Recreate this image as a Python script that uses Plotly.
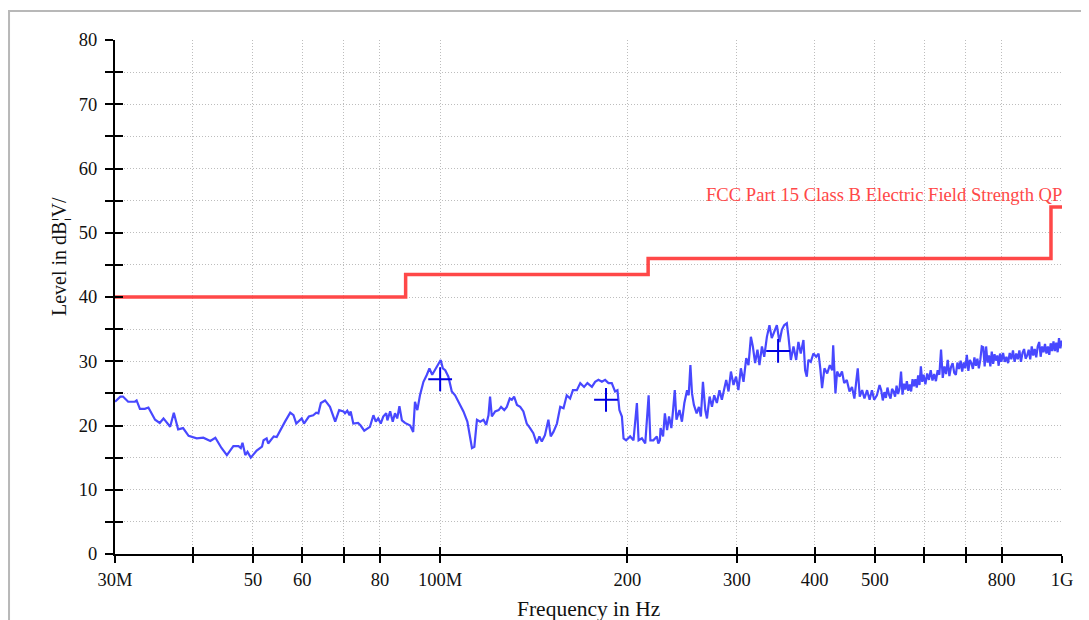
import math
import plotly.graph_objects as go

# ---------------- data ----------------
# measured trace, 30 MHz .. 1 GHz (MHz, dBuV/m), read from the picture
freq_a = [30.0, 30.6, 30.9, 31.5, 32.3, 32.5, 32.9, 33.5, 33.95, 34.8,
          35.4, 35.9, 36.8, 37.3, 37.9, 38.6, 39.4, 40.6, 41.6, 42.7,
          43.5, 44.5, 45.4, 46.5, 47.4, 47.8, 48.1, 48.6, 49.0, 49.6,
          50.7, 51.7, 52.0, 52.6, 52.9, 54.0, 54.6, 55.3, 56.3, 57.4,
          58.1, 58.7, 59.9, 60.4, 61.5, 62.5, 63.2, 63.7, 64.3, 65.3,
          66.1, 66.5, 67.8, 68.8, 69.9, 70.3, 70.9, 71.5, 71.8, 72.5,
          73.8, 74.5, 75.5, 77.1, 78.1, 78.8, 79.5, 80.25, 81.0, 81.9,
          82.25, 83.1, 83.9, 84.6, 85.3, 86.0, 86.8, 87.8, 89.5]
level_a = [23.7, 24.5, 24.5, 23.7, 23.7, 23.9, 22.6, 22.6, 22.8, 20.9,
           20.4, 21.1, 19.8, 22.0, 19.4, 19.6, 18.4, 18.0, 18.1, 17.6,
           18.1, 16.5, 15.4, 16.8, 16.8, 16.5, 17.3, 15.4, 15.9, 15.0,
           16.1, 16.7, 17.7, 18.0, 17.2, 18.3, 18.2, 19.3, 20.6, 22.0,
           21.6, 20.3, 21.1, 20.3, 21.4, 21.6, 22.0, 21.9, 23.5, 23.9,
           23.2, 22.9, 20.6, 22.4, 22.2, 21.9, 22.3, 21.6, 22.2, 20.3,
           20.4, 20.0, 19.2, 19.8, 21.6, 20.6, 21.1, 20.3, 21.4, 21.9,
           20.8, 22.2, 20.6, 21.9, 21.1, 23.0, 20.8, 20.4, 20.0]

freq_b = [90.5, 91.1, 91.9, 92.8, 94.0, 95.2, 96.1, 97.1, 98.1, 99.3,
          100.2, 101.0, 101.9, 103.1, 104.4, 105.7, 107.6, 109.0, 110.6, 111.7,
          112.5, 113.5, 114.6, 116.0, 117.4, 118.6, 119.6, 120.3, 121.1, 122.6,
          124.2, 125.3, 126.8, 128.0, 129.4, 130.4, 131.5, 132.9, 134.5, 136.1,
          137.8, 139.5, 141.2, 143.0, 144.4, 145.7, 147.4, 149.3, 150.6, 152.1,
          154.1, 156.0, 157.9, 159.8, 161.8, 163.5, 165.9, 168.0, 170.4, 172.5,
          175.4, 177.5, 179.7, 182.0, 184.2, 186.5, 188.8, 191.1, 192.8, 194.2,
          196.0, 197.2, 199.1, 202.1, 204.6, 207.2, 208.5, 211.1, 213.7, 216.4,
          217.8, 220.2]
level_b = [19.0, 23.7, 22.4, 24.7, 26.8, 27.9, 28.9, 27.9, 28.6, 29.4,
           30.2, 28.9, 28.6, 27.6, 25.3, 24.7, 23.2, 22.2, 20.6, 18.3,
           16.5, 16.7, 20.9, 20.6, 20.9, 20.1, 21.6, 24.5, 21.4, 22.2,
           22.4, 22.9, 22.4, 22.9, 24.2, 24.0, 24.5, 23.2, 22.9, 22.2,
           20.3, 19.6, 18.8, 17.2, 18.3, 17.5, 18.5, 20.9, 18.3, 19.0,
           20.3, 22.9, 22.7, 24.7, 24.2, 25.5, 25.5, 26.6, 26.0, 26.6,
           26.0, 26.8, 27.1, 26.8, 27.1, 26.6, 26.6, 25.3, 25.5, 22.4,
           21.4, 18.0, 17.7, 18.3, 17.7, 23.5, 17.7, 18.0, 17.2, 24.7,
           17.7, 17.7]

freq_c = [223.1, 224.3, 225.6, 226.2, 228.3, 229.8, 231.7, 233.4, 235.4, 236.9,
          238.4, 239.9, 242.6, 244.8, 247.0, 249.5, 251.0, 252.6, 254.1, 255.9,
          258.5, 260.7, 262.6, 264.6, 266.9, 268.6, 271.2, 273.6, 275.9, 278.6,
          281.3, 283.8, 286.3, 288.4, 290.9, 293.5, 296.3, 299.1, 301.7, 304.5,
          307.5, 310.6, 313.2, 316.0, 318.3, 321.0, 323.8, 326.2, 329.2, 332.0,
          335.3, 338.5, 341.4, 344.4, 347.9, 351.3, 354.4, 357.4, 361.0, 363.2,
          366.4, 370.0, 373.7, 376.8, 380.1, 383.9, 386.3, 388.7, 391.0, 394.5,
          398.3, 402.4, 406.0, 408.6, 411.3, 414.9, 419.2, 423.3, 427.0, 428.6,
          432.2, 434.9, 439.0, 442.8, 446.4, 450.7, 455.3, 459.5, 463.6, 467.1,
          469.4, 472.9, 477.1, 481.2, 485.9, 490.5, 494.7, 498.8, 503.9, 508.9]
level_c = [18.3, 17.2, 17.7, 19.6, 18.3, 21.9, 19.3, 21.4, 19.6, 22.4,
           25.5, 20.9, 22.4, 20.6, 23.5, 25.5, 24.7, 29.4, 25.0, 23.2,
           21.9, 22.9, 21.4, 26.8, 22.4, 21.1, 24.5, 22.9, 24.7, 23.5,
           25.5, 24.0, 26.0, 27.1, 25.3, 28.4, 26.3, 27.6, 25.5, 28.9,
           26.8, 30.5, 29.4, 33.8, 32.3, 29.7, 31.8, 29.4, 32.3, 30.7,
           33.8, 35.6, 33.6, 34.6, 35.6, 33.0, 34.9, 35.6, 35.9, 33.8,
           30.2, 32.3, 30.2, 33.0, 31.2, 33.3, 28.6, 27.6, 30.2, 29.9,
           31.2, 30.7, 31.2, 28.9, 25.8, 28.9, 28.1, 29.4, 28.6, 32.5,
           25.0, 28.4, 27.6, 28.4, 26.6, 27.1, 25.3, 26.0, 24.2, 27.1,
           28.9, 24.5, 25.5, 24.2, 25.5, 24.0, 25.5, 24.0, 24.7, 26.3]

freq_d = [512, 515, 518, 521, 524, 527, 530, 533, 536, 539,
          542, 545, 548, 551, 554, 557, 560, 563, 566, 569,
          572, 575, 578, 581, 584, 587, 590, 593, 596, 599]
level_d = [25.5, 23.9, 25.2, 24.3, 25.9, 24.8, 24.2, 25.7, 25.3, 24.5,
           26.2, 24.9, 25.8, 28.4, 24.8, 26.5, 25.6, 26.9, 25.4, 26.4,
           25.3, 27.2, 26.1, 27.2, 25.9, 27.8, 26.3, 29.2, 26.8, 27.9]

freq_e = [603, 607, 611, 615, 619, 623, 627, 631, 635, 639,
          643, 647, 651, 655, 659, 663, 667, 671, 675, 679,
          683, 687, 691, 695, 699, 703, 707, 711, 715, 719,
          723, 727, 731, 735, 739, 743, 747, 751, 755, 759,
          763, 767, 771, 775, 779, 783, 787, 791, 795, 799]
level_e = [26.4, 28.1, 27.1, 28.6, 27.0, 28.0, 26.9, 28.6, 27.9, 31.8,
           27.4, 29.2, 28.0, 30.2, 27.7, 29.1, 29.7, 28.2, 27.9, 29.8,
           28.8, 30.1, 28.4, 29.8, 28.9, 31.0, 28.5, 30.2, 29.7, 28.8,
           30.6, 29.3, 30.4, 28.9, 30.2, 32.3, 32.2, 29.2, 32.3, 29.8,
           30.9, 29.2, 31.5, 29.6, 31.1, 30.1, 30.9, 29.3, 31.2, 29.9]

freq_f = [804, 809, 814, 819, 824, 829, 834, 839, 844, 849,
          854, 859, 864, 869, 874, 879, 884, 889, 894, 899,
          904, 909, 914, 919, 924, 929, 934, 939, 944, 949,
          954, 959, 964, 969, 974, 979, 984, 989, 994, 999, 1000]
level_f = [31.3, 29.9, 30.7, 29.7, 31.3, 30.3, 31.7, 29.9, 31.2, 30.3,
           31.7, 29.9, 31.3, 31.9, 30.4, 30.9, 31.8, 30.3, 32.3, 30.9,
           31.9, 30.6, 32.3, 33.0, 30.7, 32.3, 31.4, 32.7, 31.2, 32.3,
           31.0, 32.8, 31.6, 33.1, 31.6, 32.9, 31.4, 33.6, 32.0, 33.2, 32.5]

# FCC Part 15 class B QP limit (step line)
limit_freq = [30, 88, 216, 960, 1000]
limit_level = [40, 43.5, 46, 54, 54]
limit_name = "FCC Part 15 Class B Electric Field Strength QP"

# final measurement markers
marker_freq = [100.0, 184.8, 349.5]
marker_level = [27.2, 24.0, 31.6]

# axis ticks
x_tickvals = [30, 40, 50, 60, 70, 80, 100, 200, 300, 400, 500, 600, 700, 800, 1000]
x_ticktext = ["30M", "", "50", "60", "", "80", "100M", "200", "300", "400",
              "500", "", "", "800", "1G"]
y_tickvals = [0, 5, 10, 15, 20, 25, 30, 35, 40, 45, 50, 55, 60, 65, 70, 75, 80]
y_ticktext = ["0", "", "10", "", "20", "", "30", "", "40", "", "50", "",
              "60", "", "70", "", "80"]

x_title = "Frequency in Hz"
y_title = "Level in dB\u00a6V/"

# ---------------- figure ----------------
trace_freq = freq_a + freq_b + freq_c + freq_d + freq_e + freq_f
trace_level = level_a + level_b + level_c + level_d + level_e + level_f

BLUE = "rgb(72,72,255)"
RED = "rgb(255,72,72)"
MARK = "rgb(0,0,225)"
FONT = "Liberation Serif"
GRID = "#bdbdbd"

fig = go.Figure()
fig.add_trace(go.Scatter(x=trace_freq, y=trace_level, mode="lines",
                         line=dict(color=BLUE, width=2.2), xaxis="x", yaxis="y",
                         hoverinfo="skip"))
fig.add_trace(go.Scatter(x=limit_freq, y=limit_level, mode="lines",
                         line=dict(color=RED, width=3.5, shape="hv"),
                         xaxis="x", yaxis="y2", hoverinfo="skip"))
fig.add_trace(go.Scatter(x=marker_freq, y=marker_level, mode="markers",
                         marker=dict(symbol="cross-thin", size=17,
                                     line=dict(color=MARK, width=2)),
                         xaxis="x2", yaxis="y", hoverinfo="skip"))

xr = [math.log10(30), math.log10(1000)]
common_x = dict(type="log", range=xr, tickvals=x_tickvals, ticktext=x_ticktext,
                tickwidth=2, tickcolor="black", ticklen=7, zeroline=False)
common_y = dict(range=[0, 80], tickvals=y_tickvals, ticktext=y_ticktext,
                tickwidth=2, tickcolor="black", ticklen=8, zeroline=False)

fig.update_layout(
    width=1089, height=620,
    margin=dict(l=107, r=35, t=32, b=74),
    paper_bgcolor="white", plot_bgcolor="white",
    showlegend=False,
    font=dict(family=FONT, color="#111111"),
    xaxis=dict(**common_x, ticks="outside", showline=True, linewidth=2,
               linecolor="black", showgrid=True, gridcolor=GRID,
               griddash="1px,2px", gridwidth=1,
               tickfont=dict(family=FONT, size=18.5, color="#111111"),
               ticklabelstandoff=1),
    xaxis2=dict(**common_x, ticks="inside", overlaying="x", anchor="y",
                side="bottom", showticklabels=False, showgrid=False,
                showline=False),
    yaxis=dict(**common_y, ticks="outside", showline=True, linewidth=2,
               linecolor="black", showgrid=True, gridcolor=GRID,
               griddash="1px,2px", gridwidth=1,
               tickfont=dict(family=FONT, size=18.5, color="#111111"),
               ticklabelstandoff=4),
    yaxis2=dict(**common_y, ticks="inside", overlaying="y", anchor="x",
                side="left", showticklabels=False, showgrid=False,
                showline=False),
)

# outer frame (gray border, partly outside the view)
fig.add_shape(type="rect", xref="paper", yref="paper",
              x0=-0.1119, y0=-0.35, x1=1.2, y1=1.0564,
              line=dict(color="#b8b8b8", width=2), layer="below")

fig.add_annotation(text=limit_name, xref="paper", yref="y", x=1.002, y=55.9,
                   xanchor="right", yanchor="middle", showarrow=False,
                   font=dict(family=FONT, size=18.6, color=RED))
fig.add_annotation(text=x_title, xref="paper", yref="paper", x=0.5,
                   y=-0.107, xanchor="center", yanchor="middle", showarrow=False,
                   font=dict(family=FONT, size=21.5, color="#111111"))
fig.add_annotation(text=y_title, xref="paper", yref="paper", x=-0.058,
                   y=0.578, xanchor="center", yanchor="middle", showarrow=False,
                   textangle=-90,
                   font=dict(family=FONT, size=20, color="#111111"))

fig.write_html("out.html")
